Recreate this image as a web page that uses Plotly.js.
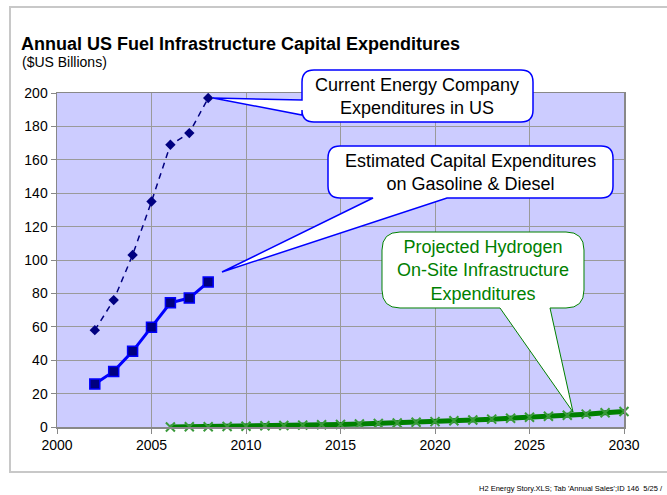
<!DOCTYPE html>
<html>
<head>
<meta charset="utf-8">
<script src="https://cdn.plot.ly/plotly-3.0.1.min.js"></script>
<style>
  html, body { margin: 0; padding: 0; background: #ffffff; }
  #chart { width: 667px; height: 495px; }
</style>
</head>
<body>
<div id="chart"></div>
<script>
// ---- Data ----
const years = [2002, 2003, 2004, 2005, 2006, 2007, 2008];
const currentEnergyCompany = [58, 76, 103, 135, 169, 176, 197];
const gasolineDiesel = [25.7, 33.3, 45.3, 59.7, 74.4, 77.2, 86.8];
const h2Years = [2006, 2007, 2008, 2009, 2010, 2011, 2012, 2013, 2014, 2015, 2016, 2017, 2018,
                 2019, 2020, 2021, 2022, 2023, 2024, 2025, 2026, 2027, 2028, 2029, 2030];
const hydrogenOnSite = [0, 0.1, 0.2, 0.3, 0.5, 0.7, 0.9, 1.1, 1.3, 1.5, 1.8, 2.1, 2.4,
                        2.8, 3.2, 3.7, 4.2, 4.7, 5.2, 5.8, 6.4, 7.0, 7.7, 8.5, 9.3];
const xTickVals = [2000, 2005, 2010, 2015, 2020, 2025, 2030];
const yTickVals = [0, 20, 40, 60, 80, 100, 120, 140, 160, 180, 200];

const titleText = "Annual US Fuel Infrastructure Capital Expenditures";
const subtitleText = "($US Billions)";
const callout1 = ["Current Energy Company", "Expenditures in US"];
const callout2 = ["Estimated Capital Expenditures", "on Gasoline & Diesel"];
const callout3 = ["Projected Hydrogen", "On-Site Infrastructure", "Expenditures"];
const footerText = "H2 Energy Story.XLS; Tab 'Annual Sales';ID 146  5/25 /";

// ---- Layout geometry (pixels) ----
const W = 667, H = 495;
const PL = 57, PR = 624, PT = 93, PB = 427;
const px = x => (x - PL) / (PR - PL);
const py = y => (PB - y) / (PB - PT);
const P = (x, y) => px(x).toFixed(5) + "," + py(y).toFixed(5);

function bubble(x0, y0, x1, y1, r, ptr) {
  let d = "M" + P(x0 + r, y0);
  d += " L" + P(x1 - r, y0);
  d += " Q" + P(x1, y0) + " " + P(x1, y0 + r);
  d += " L" + P(x1, y1 - r);
  d += " Q" + P(x1, y1) + " " + P(x1 - r, y1);
  if (ptr.side === "bottom") {
    d += " L" + P(ptr.a[0], ptr.a[1]) + " L" + P(ptr.tip[0], ptr.tip[1]) + " L" + P(ptr.b[0], ptr.b[1]);
  }
  d += " L" + P(x0 + r, y1);
  d += " Q" + P(x0, y1) + " " + P(x0, y1 - r);
  if (ptr.side === "left") {
    d += " L" + P(ptr.a[0], ptr.a[1]) + " L" + P(ptr.tip[0], ptr.tip[1]) + " L" + P(ptr.b[0], ptr.b[1]);
  }
  d += " L" + P(x0, y0 + r);
  d += " Q" + P(x0, y0) + " " + P(x0 + r, y0);
  d += " Z";
  return d;
}

const FONT = "Liberation Sans, Arial, Helvetica, sans-serif";

const traces = [
  {
    x: years, y: currentEnergyCompany, type: "scatter", mode: "lines+markers",
    name: "Current Energy Company Expenditures in US",
    line: { color: "#000080", width: 1.5, dash: "6px,5px" },
    marker: { symbol: "diamond", size: 8, color: "#000080" },
    hoverinfo: "x+y"
  },
  {
    x: years, y: gasolineDiesel, type: "scatter", mode: "lines+markers",
    name: "Estimated Capital Expenditures on Gasoline & Diesel",
    line: { color: "#0000ff", width: 3 },
    marker: { symbol: "square", size: 10, color: "#000080", line: { color: "#0000ff", width: 1.5 } },
    hoverinfo: "x+y"
  },
  {
    x: h2Years, y: hydrogenOnSite, type: "scatter", mode: "lines+markers",
    name: "Projected Hydrogen On-Site Infrastructure Expenditures",
    line: { color: "#008000", width: 5 },
    marker: { symbol: "x-thin", size: 9, color: "#006400", line: { color: "#3a9a3a", width: 2 } },
    cliponaxis: false,
    hoverinfo: "x+y"
  }
];

const layout = {
  width: W, height: H,
  margin: { l: PL, r: W - PR, t: PT, b: H - PB, pad: 0 },
  paper_bgcolor: "#ffffff",
  plot_bgcolor: "#ccccff",
  showlegend: false,
  font: { family: FONT, size: 14, color: "#000000" },
  title: {
    text: "<b>" + titleText + "</b>",
    font: { family: FONT, size: 18, color: "#000000" },
    xref: "container", x: 21 / W, xanchor: "left",
    yref: "container", y: 1 - 44 / H, yanchor: "middle"
  },
  xaxis: {
    range: [2000, 2030],
    tickvals: xTickVals,
    ticktext: xTickVals.map(String),
    ticks: "outside", ticklen: 5, tickcolor: "#888888", tickwidth: 1,
    showgrid: true, gridcolor: "#9a9a9a", gridwidth: 1,
    showline: true, linecolor: "#888888", linewidth: 1.5, mirror: true,
    zeroline: false,
    tickfont: { family: FONT, size: 14, color: "#000000" },
    fixedrange: true
  },
  yaxis: {
    range: [0, 200],
    tickvals: yTickVals,
    ticktext: yTickVals.map(String),
    ticks: "outside", ticklen: 5, tickcolor: "#888888", tickwidth: 1,
    showgrid: true, gridcolor: "#9a9a9a", gridwidth: 1,
    showline: true, linecolor: "#888888", linewidth: 1.5, mirror: true,
    zeroline: false,
    tickfont: { family: FONT, size: 14, color: "#000000" },
    fixedrange: true
  },
  shapes: [
    {
      type: "rect", xref: "paper", yref: "paper", layer: "below",
      x0: px(10), x1: px(720), y0: py(472), y1: py(7),
      line: { color: "#c8c8c8", width: 2 }, fillcolor: "rgba(0,0,0,0)"
    },
    {
      type: "path", xref: "paper", yref: "paper", layer: "above",
      path: bubble(302, 70, 533, 122, 12, { side: "left", a: [302, 115], tip: [213, 98], b: [302, 100] }),
      line: { color: "#0000ff", width: 1.5 }, fillcolor: "#ffffff"
    },
    {
      type: "path", xref: "paper", yref: "paper", layer: "above",
      path: bubble(328, 146, 613, 198, 12, { side: "bottom", a: [447, 198], tip: [222, 272], b: [373, 198] }),
      line: { color: "#0000ff", width: 1.5 }, fillcolor: "#ffffff"
    },
    {
      type: "path", xref: "paper", yref: "paper", layer: "above",
      path: bubble(382, 232, 584, 308, 18, { side: "bottom", a: [550, 308], tip: [573, 412], b: [500, 308] }),
      line: { color: "#008000", width: 1 }, fillcolor: "#ffffff"
    }
  ],
  annotations: [
    {
      text: subtitleText, xref: "paper", yref: "paper",
      x: px(20), y: py(62), xanchor: "left", yanchor: "middle", showarrow: false,
      font: { family: FONT, size: 14, color: "#000000" }
    },
    {
      text: callout1.join("<br>"), xref: "paper", yref: "paper",
      x: px(417), y: py(96), xanchor: "center", yanchor: "middle", showarrow: false, align: "center",
      font: { family: FONT, size: 18, color: "#000000" }
    },
    {
      text: callout2.join("<br>"), xref: "paper", yref: "paper",
      x: px(470), y: py(172), xanchor: "center", yanchor: "middle", showarrow: false, align: "center",
      font: { family: FONT, size: 18, color: "#000000" }
    },
    {
      text: callout3.join("<br>"), xref: "paper", yref: "paper",
      x: px(483), y: py(270), xanchor: "center", yanchor: "middle", showarrow: false, align: "center",
      font: { family: FONT, size: 18, color: "#008000" }
    },
    {
      text: footerText, xref: "paper", yref: "paper",
      x: px(665), y: py(488), xanchor: "right", yanchor: "middle", showarrow: false,
      font: { family: FONT, size: 7.5, color: "#000000" }
    }
  ]
};

Plotly.newPlot("chart", traces, layout, { displayModeBar: false, staticPlot: true });
</script>
</body>
</html>
